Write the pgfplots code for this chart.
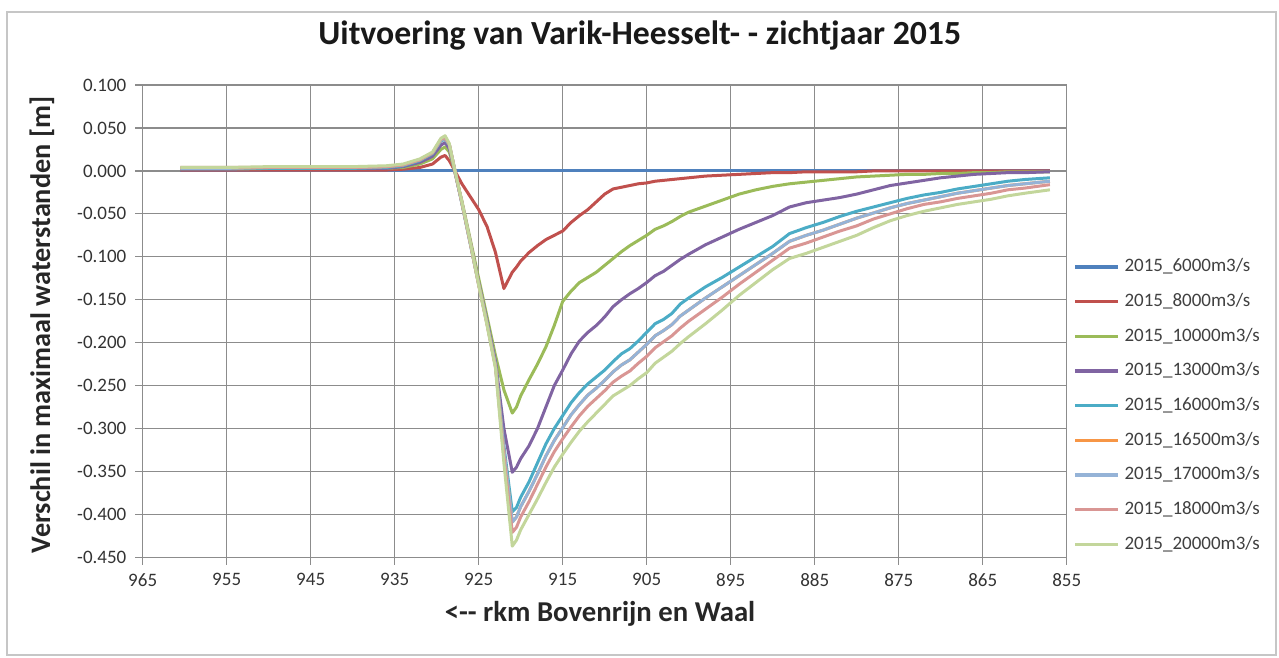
\documentclass[border=0pt]{standalone}
\usepackage{pgfplots}
\pgfplotsset{compat=1.18}
\usepackage{pgfplotstable}
\usepackage{fontspec}
\setmainfont{Carlito}
\definecolor{cA}{HTML}{4F81BD}
\definecolor{cB}{HTML}{C0504D}
\definecolor{cC}{HTML}{9BBB59}
\definecolor{cD}{HTML}{8064A2}
\definecolor{cE}{HTML}{4BACC6}
\definecolor{cF}{HTML}{F79646}
\definecolor{cG}{HTML}{95B3D7}
\definecolor{cH}{HTML}{D99694}
\definecolor{cI}{HTML}{C3D69B}
\definecolor{gridc}{HTML}{8C8C8C}
\pgfplotstableread{
x b r g p t o lb pk lg
960.5 0 0.001 0.002 0.002 0.003 0.003 0.003 0.004 0.004
955 0 0.001 0.002 0.002 0.003 0.003 0.003 0.004 0.004
950 0 0.001 0.003 0.003 0.003 0.004 0.004 0.004 0.005
945 0 0.001 0.003 0.003 0.003 0.004 0.004 0.004 0.005
940 0 0.001 0.003 0.003 0.003 0.004 0.004 0.004 0.005
936 0 0.001 0.003 0.003 0.004 0.005 0.005 0.005 0.006
934 0 0.002 0.004 0.005 0.006 0.007 0.007 0.007 0.008
932 0 0.004 0.008 0.010 0.012 0.013 0.013 0.013 0.014
930.5 0 0.008 0.014 0.017 0.020 0.021 0.021 0.021 0.022
929.5 0 0.016 0.025 0.030 0.035 0.036 0.036 0.037 0.038
929 0 0.018 0.028 0.033 0.037 0.038 0.038 0.039 0.041
928.5 0 0.012 0.022 0.026 0.030 0.031 0.031 0.031 0.032
928 0 0.003 0.005 0.006 0.008 0.008 0.008 0.008 0.008
927 0 -0.015 -0.035 -0.037 -0.038 -0.037 -0.037 -0.037 -0.036
926 0 -0.030 -0.080 -0.083 -0.085 -0.084 -0.084 -0.084 -0.083
925 0 -0.045 -0.125 -0.130 -0.132 -0.132 -0.132 -0.133 -0.133
924 0 -0.065 -0.170 -0.175 -0.177 -0.178 -0.178 -0.179 -0.180
923 0 -0.095 -0.215 -0.222 -0.225 -0.227 -0.227 -0.228 -0.230
922 0 -0.137 -0.255 -0.300 -0.320 -0.326 -0.326 -0.332 -0.340
921 0 -0.118 -0.282 -0.351 -0.397 -0.409 -0.409 -0.421 -0.437
920.5 0 -0.112 -0.275 -0.345 -0.392 -0.403 -0.403 -0.415 -0.430
920 0 -0.105 -0.262 -0.335 -0.380 -0.391 -0.391 -0.403 -0.418
919 0 -0.095 -0.243 -0.320 -0.362 -0.373 -0.373 -0.385 -0.400
918 0 -0.087 -0.225 -0.300 -0.340 -0.353 -0.353 -0.365 -0.382
917 0 -0.080 -0.205 -0.275 -0.318 -0.332 -0.332 -0.345 -0.363
916 0 -0.075 -0.180 -0.250 -0.300 -0.314 -0.314 -0.327 -0.345
915 0 -0.070 -0.152 -0.232 -0.285 -0.299 -0.299 -0.312 -0.330
914 0 -0.060 -0.140 -0.213 -0.270 -0.284 -0.284 -0.298 -0.316
913 0 -0.052 -0.130 -0.198 -0.258 -0.272 -0.272 -0.285 -0.303
912 0 -0.045 -0.124 -0.188 -0.248 -0.261 -0.261 -0.274 -0.292
911 0 -0.036 -0.118 -0.180 -0.240 -0.253 -0.253 -0.265 -0.282
910 0 -0.027 -0.110 -0.170 -0.232 -0.244 -0.244 -0.256 -0.272
909 0 -0.021 -0.102 -0.158 -0.222 -0.234 -0.234 -0.246 -0.262
908 0 -0.019 -0.094 -0.150 -0.213 -0.226 -0.226 -0.239 -0.256
907 0 -0.017 -0.087 -0.143 -0.207 -0.220 -0.220 -0.233 -0.250
906 0 -0.015 -0.081 -0.137 -0.198 -0.211 -0.211 -0.224 -0.242
905 0 -0.014 -0.075 -0.130 -0.188 -0.202 -0.202 -0.216 -0.235
904 0 -0.012 -0.068 -0.122 -0.178 -0.192 -0.192 -0.206 -0.224
903 0 -0.011 -0.064 -0.117 -0.173 -0.186 -0.186 -0.199 -0.217
902 0 -0.010 -0.059 -0.110 -0.166 -0.179 -0.179 -0.192 -0.210
901 0 -0.009 -0.053 -0.103 -0.155 -0.169 -0.169 -0.183 -0.201
900 0 -0.008 -0.048 -0.097 -0.148 -0.162 -0.162 -0.175 -0.193
898 0 -0.006 -0.041 -0.086 -0.135 -0.148 -0.148 -0.161 -0.178
896 0 -0.005 -0.034 -0.077 -0.124 -0.135 -0.135 -0.147 -0.162
894 0 -0.004 -0.027 -0.068 -0.112 -0.122 -0.122 -0.132 -0.145
892 0 -0.003 -0.022 -0.060 -0.100 -0.109 -0.109 -0.118 -0.130
890 0 -0.002 -0.018 -0.052 -0.088 -0.096 -0.096 -0.104 -0.115
888 0 -0.002 -0.015 -0.042 -0.073 -0.082 -0.082 -0.090 -0.102
886 0 -0.001 -0.013 -0.037 -0.066 -0.075 -0.075 -0.084 -0.096
884 0 -0.001 -0.011 -0.034 -0.060 -0.069 -0.069 -0.077 -0.089
882 0 -0.001 -0.009 -0.031 -0.053 -0.062 -0.062 -0.070 -0.082
880 0 -0.001 -0.007 -0.027 -0.047 -0.055 -0.055 -0.064 -0.075
878 0 0 -0.006 -0.022 -0.042 -0.049 -0.049 -0.056 -0.066
876 0 0 -0.005 -0.017 -0.037 -0.043 -0.043 -0.050 -0.058
874 0 0 -0.004 -0.014 -0.032 -0.038 -0.038 -0.044 -0.052
872 0 0 -0.004 -0.011 -0.028 -0.034 -0.034 -0.039 -0.047
870 0 0 -0.003 -0.008 -0.025 -0.030 -0.030 -0.036 -0.043
868 0 0 -0.003 -0.006 -0.021 -0.026 -0.026 -0.032 -0.039
866 0 0 -0.002 -0.004 -0.018 -0.023 -0.023 -0.029 -0.036
864 0 0 -0.002 -0.003 -0.015 -0.020 -0.020 -0.026 -0.033
862 0 0 -0.001 -0.002 -0.012 -0.017 -0.017 -0.022 -0.029
860 0 0 -0.001 -0.002 -0.010 -0.015 -0.015 -0.020 -0.026
857 0 0 -0.001 -0.001 -0.008 -0.012 -0.012 -0.016 -0.022
}\datatable
\begin{document}
\begin{tikzpicture}
\path[use as bounding box] (0pt,0pt) rectangle (511.6pt,262.8pt);
\draw[gray!45, line width=0.8pt] (2.8pt,0.8pt) rectangle (510.4pt,258pt);
\begin{axis}[
  at={(57.08pt,39.88pt)}, anchor=south west,
  scale only axis, width=369.6pt, height=188.9pt,
  x dir=reverse,
  xmin=855, xmax=965, ymin=-0.45, ymax=0.1,
  xtick={855,865,875,885,895,905,915,925,935,945,955,965},
  ytick={-0.45,-0.4,-0.35,-0.3,-0.25,-0.2,-0.15,-0.1,-0.05,0,0.05,0.1},
  yticklabels={-0.450,-0.400,-0.350,-0.300,-0.250,-0.200,-0.150,-0.100,-0.050,0.000,0.050,0.100},
  /pgf/number format/assume math mode=true,
  xticklabel style={/pgf/number format/.cd, fixed, 1000 sep={}},
  grid=major,
  major grid style={gridc, line width=0.5pt},
  axis line style={gridc, line width=0.6pt},
  tick style={gridc, line width=0.5pt},
  tick align=outside, major tick length=3pt,
  xtick pos=bottom, ytick pos=left,
  tick label style={font=\fontsize{7.6}{8}\selectfont, text=black!80},
  title={Uitvoering van Varik-Heesselt- - zichtjaar 2015},
  title style={at={(rel axis cs:0.538,1.074)}, anchor=center, yshift=0pt, font=\fontsize{13.5}{15}\selectfont\bfseries, text=black!90},
  xlabel={<{-}{-} rkm Bovenrijn en Waal},
  xlabel style={at={(rel axis cs:0.495,-0.12)}, anchor=center, font=\fontsize{11.5}{13}\selectfont\bfseries, text=black!85},
  ylabel={Verschil in maximaal waterstanden [m]},
  ylabel style={at={(rel axis cs:-0.109,0.492)}, anchor=center, font=\fontsize{11.3}{13}\selectfont\bfseries, text=black!85},
  legend style={at={(0.999,0.655)}, anchor=north west, draw=none, fill=none,
    font=\fontsize{7.6}{8.5}\selectfont, text=black!75, row sep=3.1pt},
  legend cell align=left,
  legend image code/.code={\draw[#1, line width=1.3pt] (0pt,0pt) -- (17pt,0pt);},
  every axis plot/.append style={no marks, line width=1.2pt, line join=round},
]
\addplot[cA] table[x=x,y=b]{\datatable};
\addplot[cB] table[x=x,y=r]{\datatable};
\addplot[cC] table[x=x,y=g]{\datatable};
\addplot[cD] table[x=x,y=p]{\datatable};
\addplot[cE] table[x=x,y=t]{\datatable};
\addplot[cF] table[x=x,y=o]{\datatable};
\addplot[cG] table[x=x,y=lb]{\datatable};
\addplot[cH] table[x=x,y=pk]{\datatable};
\addplot[cI] table[x=x,y=lg]{\datatable};
\legend{2015\_6000m3/s,2015\_8000m3/s,2015\_10000m3/s,2015\_13000m3/s,2015\_16000m3/s,2015\_16500m3/s,2015\_17000m3/s,2015\_18000m3/s,2015\_20000m3/s}
\end{axis}
\end{tikzpicture}
\end{document}
